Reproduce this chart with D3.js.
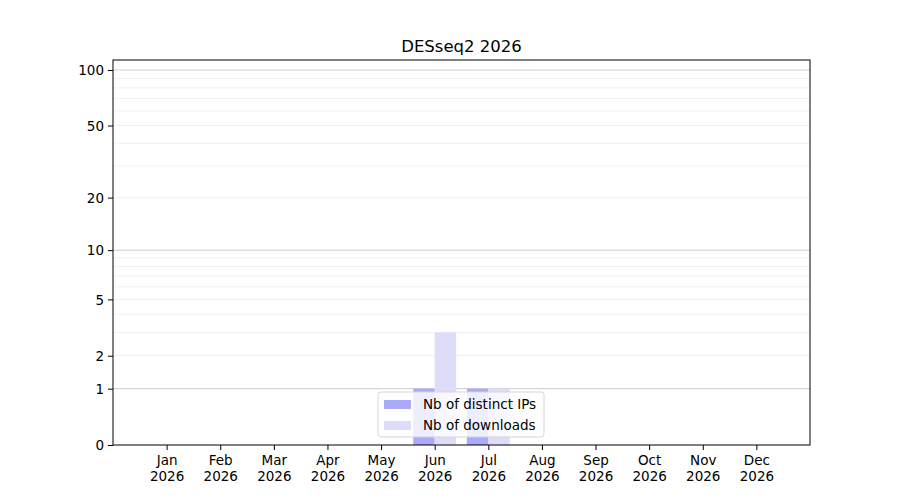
<!DOCTYPE html>
<html>
<head>
<meta charset="utf-8">
<script src="https://cdn.jsdelivr.net/npm/d3@7"></script>
<style>
  body { margin: 0; background: #fff; }
  svg text { font-family: 'DejaVu Sans', sans-serif; fill: #000; }
</style>
</head>
<body>
<div id="chart"></div>
<script>
// data
var months = ['Jan', 'Feb', 'Mar', 'Apr', 'May', 'Jun', 'Jul', 'Aug', 'Sep', 'Oct', 'Nov', 'Dec']
var year = '2026'
var distinctIPs = [0, 0, 0, 0, 0, 1, 1, 0, 0, 0, 0, 0]
var downloads = [0, 0, 0, 0, 0, 3, 1, 0, 0, 0, 0, 0]
var yTicks = [0, 1, 2, 5, 10, 20, 50, 100]
var majorGrid = [1, 10, 100]
var minorGrid = [2, 3, 4, 5, 6, 7, 8, 9, 20, 30, 40, 50, 60, 70, 80, 90]

var width = 900, height = 500
var padding = { left: 113, right: 90, top: 60, bottom: 55 }
var svg = d3.select('#chart').append('svg').attr('width', width).attr('height', height)

var xScale = d3.scaleLinear().domain([0, 13]).range([padding.left, width - padding.right])
var yScale = d3.scaleSymlog().constant(1).domain([0, 113.2]).range([height - padding.bottom, padding.top])
var barW = xScale(0.4) - xScale(0)

// grid
svg.append('g').selectAll('line').data(minorGrid).enter().append('line')
    .attr('x1', padding.left).attr('x2', width - padding.right)
    .attr('y1', function(d) { return yScale(d) }).attr('y2', function(d) { return yScale(d) })
    .style('stroke', '#ebebeb').style('stroke-width', 0.8)
svg.append('g').selectAll('line').data(majorGrid).enter().append('line')
    .attr('x1', padding.left).attr('x2', width - padding.right)
    .attr('y1', function(d) { return yScale(d) }).attr('y2', function(d) { return yScale(d) })
    .style('stroke', '#cccccc').style('stroke-width', 1)

// bars
svg.append('g').selectAll('rect').data(distinctIPs).enter().append('rect')
    .attr('x', function(d, i) { return xScale(i + 1) - barW })
    .attr('y', function(d) { return yScale(d) })
    .attr('width', barW)
    .attr('height', function(d) { return yScale(0) - yScale(d) })
    .style('fill', 'rgb(170,170,248)')
svg.append('g').selectAll('rect').data(downloads).enter().append('rect')
    .attr('x', function(d, i) { return xScale(i + 1) })
    .attr('y', function(d) { return yScale(d) })
    .attr('width', barW)
    .attr('height', function(d) { return yScale(0) - yScale(d) })
    .style('fill', 'rgb(221,221,250)')

// axes
var xAxis = d3.axisBottom(xScale)
    .tickValues(d3.range(1, 13))
    .tickSize(5)
    .tickPadding(4)
    .tickFormat('')
var gx = svg.append('g')
    .attr('transform', 'translate(0,' + (height - padding.bottom) + ')')
    .call(xAxis)
gx.select('.domain').remove()
gx.selectAll('.tick').each(function(d) {
    var t = d3.select(this).append('text').attr('y', 20).attr('text-anchor', 'middle').style('font-size', '13.5px')
    t.append('tspan').attr('x', 0).text(months[d - 1])
    t.append('tspan').attr('x', 0).attr('dy', 16).text(year)
})

var gy = svg.append('g')
    .attr('transform', 'translate(' + padding.left + ',0)')
    .call(d3.axisLeft(yScale).tickValues(yTicks).tickSize(5).tickPadding(4).tickFormat(d3.format('d')))
gy.select('.domain').remove()
gy.selectAll('text').style('font-size', '13.5px').attr('dy', '0.35em')
svg.selectAll('.tick line').style('stroke', '#000').style('stroke-width', 1)

// frame
svg.append('rect')
    .attr('x', padding.left).attr('y', padding.top)
    .attr('width', width - padding.left - padding.right)
    .attr('height', height - padding.top - padding.bottom)
    .style('fill', 'none').style('stroke', '#000').style('stroke-width', 1)

// title
svg.append('text')
    .attr('x', (padding.left + width - padding.right) / 2)
    .attr('y', 52)
    .attr('text-anchor', 'middle')
    .style('font-size', '16.5px')
    .text('DESseq2 ' + year)

// legend
var legend = svg.append('g').attr('transform', 'translate(378,392)')
legend.append('rect')
    .attr('width', 166).attr('height', 45).attr('rx', 3)
    .style('fill', 'rgba(255,255,255,0.8)').style('stroke', '#d5d5d5')
var items = [['Nb of distinct IPs', 'rgb(170,170,248)'], ['Nb of downloads', 'rgb(221,221,250)']]
items.forEach(function(it, i) {
    legend.append('rect').attr('x', 6).attr('y', 8 + i * 21).attr('width', 27).attr('height', 9).style('fill', it[1])
    legend.append('text').attr('x', 45).attr('y', 17 + i * 21).style('font-size', '13.5px').text(it[0])
})
</script>
</body>
</html>
